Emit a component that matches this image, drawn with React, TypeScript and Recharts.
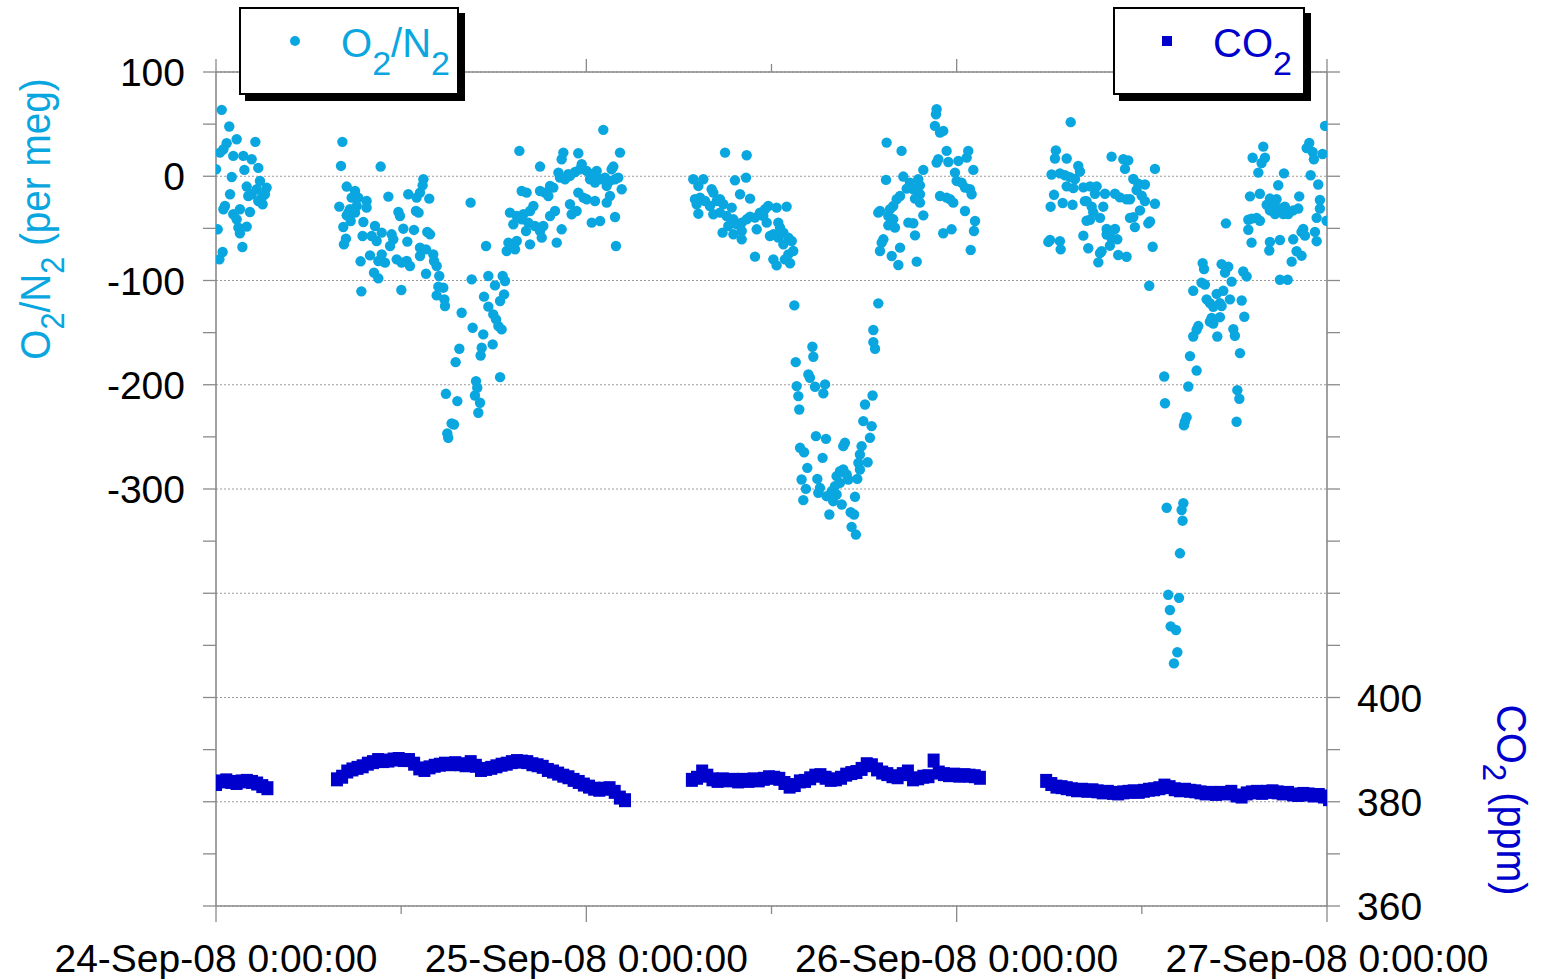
import { CartesianGrid, Scatter, ScatterChart, XAxis, YAxis } from "recharts";

const FONT = '"Liberation Sans", Arial, Helvetica, sans-serif';
const O2_COLOR = "#0AA6E0";
const CO2_COLOR = "#0000CC";
const AXIS_COLOR = "#8A8A8A";

// x axis: hours since 24-Sep-08 0:00
const hourTicks = [0, 12, 24, 36, 48, 60, 72];
const dayTicks = [0, 24, 48, 72];
const dayLabels = ["24-Sep-08 0:00:00", "25-Sep-08 0:00:00", "26-Sep-08 0:00:00", "27-Sep-08 0:00:00"];

const o2Ticks = [-700, -650, -600, -550, -500, -450, -400, -350, -300, -250, -200, -150, -100, -50, 0, 50, 100];
const o2Labels = [100, 0, -100, -200, -300];
const o2Grid = [100, 0, -100, -200, -300, -400, -500, -600, -700];
const co2Ticks = [360, 370, 380, 390, 400, 410, 420, 430, 440, 450, 460, 470, 480, 490, 500, 510, 520];
const co2Labels = [360, 380, 400];

// O2/N2 (per meg) samples: [hour, value]
const o2Night1 = [
  [0.37, 63.7], [0.86, 47.7], [1.34, 35.5], [2.55, 33], [0.69, 31.7], [0.48, 25.9], [0.26, 22.7], [1.12, 19.5],
  [1.77, 19.5], [2.31, 16.3], [0, 6.7], [1.84, 6.1], [2.74, 8], [1.02, -0.7], [2.85, -4.5], [1.99, -9.9],
  [3.28, -10.9], [2.64, -12.5], [2.31, -17.3], [3.17, -17.3], [0.91, -17.3], [2.09, -18.9], [2.96, -20.5],
  [2.74, -23.7], [3.02, -26.9], [0.58, -28.5], [0.48, -31.7], [1.55, -31.7], [1.12, -36.5], [2.2, -34.3],
  [1.34, -41.3], [0.11, -50.9], [1.99, -48.3], [1.45, -49.3], [1.55, -54.7], [0.43, -72.7], [0.22, -79.7],
  [1.71, -67.9],
];
const o2Day1 = [
  [8.19, 33], [8.1, 9.9], [10.67, 9.3], [8.47, -9.9], [9.01, -14.1], [8.79, -20.5], [9.22, -20.5], [9.76, -23.7],
  [7.99, -29.1], [8.68, -31.7], [9.12, -28.5], [8.58, -34.9], [9.01, -34.9], [9.76, -30.1], [8.47, -37.5],
  [8.73, -42.9], [8.25, -48.7], [9.55, -43.9], [8.42, -59.9], [8.29, -65.3], [9.37, -81.6], [9.98, -75.9],
  [9.5, -57.3], [10.09, -57.3], [10.3, -47.7], [10.41, -62.1], [10.74, -54.1], [11.17, -19.5], [11.38, -55.7],
  [11.49, -60.5], [11.28, -66.9], [10.74, -74.9], [10.52, -81.3], [10.95, -82.9], [11.82, -34.3], [11.92, -38.1],
  [12.14, -50.3], [12.4, -62.7], [11.71, -79.7], [12.03, -82.9], [12.36, -81.3], [12.57, -86.1], [12.83, -51.5],
  [12.46, -17.3], [13.0, -20.5], [13.44, -2.9], [13.39, -8.7], [13.22, -15.7], [13.82, -21.5], [12.96, -33.3],
  [13.13, -34.9], [13.69, -53.5], [13.87, -55.7], [13.22, -68.5], [13.61, -70.1], [14.08, -74.9], [14.13, -81.3],
  [14.3, -86.1], [13.22, -76.5], [10.24, -92.5], [10.52, -97.9], [9.42, -110.4], [12.01, -109.1], [13.61, -93.5],
  [14.47, -95.7], [14.41, -105.9], [14.3, -114.3], [14.73, -106.9], [14.8, -118.1], [14.84, -124.5],
];
const o2Dip1 = [
  [15.92, -130.9], [16.5, -25.3], [16.57, -98.9], [16.63, -145.3], [17.32, -151.7], [17.22, -164.5],
  [17.15, -171.9], [17.5, -66.9], [14.9, -208.7], [15.77, -165.5], [15.53, -178.3], [15.64, -215.7],
  [15.27, -237.1], [15.42, -238.1], [14.99, -246.7], [15.05, -250.9], [16.85, -196.5], [16.93, -202.9],
  [16.78, -210.3], [17.11, -217.3], [17.0, -226.9], [17.37, -115.5], [17.65, -95.7], [17.65, -125.1],
  [18.58, -95.7], [18.73, -100.5], [18.08, -104.7], [18.67, -113.3], [18.41, -119.7], [17.97, -132.5],
  [18.15, -137.3], [18.3, -143.7], [18.51, -146.9], [17.93, -161.3], [18.41, -192.7],
];
const o2Rise1 = [
  [19.66, 24.3], [21.0, 9.3], [25.1, 44.5], [26.18, 22.7], [22.51, 22.7], [22.4, 16.3], [23.48, 22.1], [25.75, 9.3],
  [25.64, 6.7], [22.19, 3.5], [22.83, 1.9], [22.29, -1.3], [22.62, -2.9], [22.94, 0.3], [23.27, 4.1], [23.7, 11.5],
  [23.59, 6.7], [24.02, 5.1], [24.35, 1.9], [24.67, 5.1], [24.24, -2.9], [24.56, -6.1], [24.89, -2.9], [25.21, -1.3],
  [25.32, -9.3], [25.53, -4.5], [25.86, -2.9], [26.07, -1.3], [26.29, -12.5], [21.65, -9.3], [21.86, -10.9],
  [21.32, -15.7], [21.0, -14.1], [19.81, -14.1], [20.13, -15.7], [21.54, -18.9], [23.48, -15.7], [23.81, -20.5],
  [24.02, -22.1], [24.56, -23.7], [25.32, -25.3], [25.53, -18.9], [22.94, -26.9], [20.57, -28.5], [21.97, -33.3],
  [20.35, -33.3], [19.92, -36.5], [19.49, -38.1], [19.05, -34.9], [19.27, -46.1], [19.81, -41.3], [20.24, -44.5],
  [20.67, -47.7], [21.65, -38.1], [21.21, -47.7], [21.0, -52.5], [21.11, -58.9], [22.4, -50.9], [22.08, -63.7],
  [23.05, -36.5], [23.37, -33.3], [20.09, -52.5], [20.35, -65.3], [19.49, -62.1], [18.95, -63.7], [18.84, -71.7],
  [19.38, -70.1], [24.35, -44.5], [24.89, -42.9], [25.86, -39.1], [25.92, -66.9],
];
const o2Day2 = [
  [32.99, 22.7], [34.39, 20.1], [30.93, -2.9], [31.58, -2.9], [31.26, -9.3], [33.63, -3.9], [34.35, -1.3],
  [32.12, -12.5], [32.23, -15.7], [31.04, -22.1], [31.37, -20.5], [31.69, -23.7], [31.15, -26.9], [32.01, -28.5],
  [32.45, -23.7], [32.66, -22.1], [32.88, -26.9], [31.26, -35.9], [33.96, -17.3], [34.61, -21.5], [32.23, -36.5],
  [32.66, -34.9], [33.09, -38.1], [33.42, -30.1], [33.53, -41.3], [33.2, -47.7], [33.74, -46.1], [34.07, -44.5],
  [34.39, -41.3], [34.61, -38.7], [34.93, -39.7], [35.25, -34.9], [35.58, -31.7], [35.79, -28.5], [35.47, -38.1],
  [35.69, -44.5], [35.04, -50.9], [34.07, -52.5], [33.53, -55.7], [32.83, -54.1], [34.07, -60.5], [34.93, -77.1],
  [36.33, -30.1], [36.98, -29.1], [36.44, -44.5], [36.55, -49.3], [36.12, -55.7], [36.44, -58.9], [36.77, -54.1],
  [37.09, -58.9], [37.31, -62.1], [36.77, -65.3], [37.41, -71.7], [37.09, -74.9], [36.87, -79.7], [37.2, -83.5],
  [36.12, -79.7], [36.33, -85.5], [35.9, -57.3],
];
const o2Dip2 = [
  [37.48, -123.9], [38.65, -163.5], [38.71, -173.1], [37.57, -178.3], [38.39, -190.1], [38.49, -193.3],
  [38.82, -201.9], [39.47, -199.7], [39.36, -208.3], [37.63, -201.3], [37.74, -210.9], [37.8, -223.7],
  [38.88, -249.3], [39.53, -251.9], [37.85, -260.5], [38.11, -264.7], [39.31, -270.1], [40.65, -258.9],
  [40.76, -255.7], [41.84, -258.9], [41.73, -266.9], [41.63, -274.9], [42.23, -274.3], [38.32, -279.7],
  [37.95, -290.9], [38.23, -299.9], [38.06, -310.7], [38.97, -290.3], [39.14, -298.9], [39.03, -303.7],
  [39.57, -306.9], [39.9, -302.1], [40.11, -297.3], [40.22, -287.7], [40.44, -282.9], [40.65, -281.3],
  [40.87, -286.1], [40.98, -290.9], [40.44, -294.1], [40.22, -305.3], [40.0, -311.7], [40.55, -314.9],
  [39.75, -324.5], [41.41, -307.5], [41.13, -322.3], [41.35, -324.5], [41.19, -336.3], [41.47, -343.7],
  [41.56, -290.3], [41.73, -281.3], [41.95, -234.9], [42.49, -239.7], [42.06, -218.9], [42.55, -210.3],
  [42.38, -250.9], [42.6, -159.1], [42.71, -165.5], [42.6, -147.5], [42.92, -121.9],
];
const o2Night2 = [
  [46.7, 64.3], [46.66, 59.5], [46.59, 48.3], [47.13, 43.5], [46.92, 41.9], [43.46, 32.3], [44.43, 24.3],
  [47.35, 24.3], [48.75, 24.3], [48.65, 17.9], [48.11, 14.7], [47.46, 13.7], [46.81, 16.3], [46.7, 13.1],
  [45.84, 6.1], [49.08, 6.1], [43.42, -3.5], [44.54, -0.3], [44.97, -6.1], [45.51, -2.9], [45.62, -8.7],
  [45.19, -12.5], [44.76, -11.9], [44.33, -18.9], [44.11, -22.1], [43.89, -28.5], [43.68, -31.7], [43.03, -33.3],
  [42.92, -34.9], [43.57, -38.1], [43.89, -41.3], [43.57, -47.1], [44.0, -49.3], [45.62, -17.3], [45.3, -21.5],
  [45.62, -25.3], [45.84, -37.5], [44.87, -44.5], [45.19, -45.1], [45.3, -56.7], [44.33, -68.5], [43.79, -76.5],
  [44.22, -85.1], [45.41, -81.9], [43.03, -71.7], [43.25, -60.5], [43.14, -63.7], [47.89, 3.5], [48.0, -4.5],
  [48.32, -6.1], [48.54, -10.9], [48.86, -12.5], [48.97, -17.3], [46.92, -18.9], [47.35, -20.5], [47.57, -22.1],
  [47.78, -25.3], [48.54, -33.3], [49.19, -42.9], [49.12, -52.5], [47.67, -50.9], [47.13, -54.7], [48.91, -70.7],
];
const o2Day3 = [
  [55.39, 51.9], [54.43, 24.8], [54.37, 17.0], [55.13, 17.0], [55.88, 9.9], [55.99, 4.6], [58.04, 18.8],
  [58.8, 16.3], [59.12, 15.2], [58.91, 7.05], [60.85, 7.05], [54.15, 1.7], [54.69, 2.8], [55.02, 1.0],
  [55.34, -0.8], [55.67, -2.6], [55.13, -9.7], [55.56, -11.4], [56.21, -10.7], [56.64, -9.7], [57.07, -9.7],
  [56.96, -16.8], [56.42, -23.9], [57.61, -16.8], [58.26, -16.8], [58.58, -20.3], [59.01, -22.1], [59.45, -2.6],
  [59.77, -7.2], [60.2, -7.9], [59.66, -13.2], [59.99, -18.6], [60.2, -23.9], [60.85, -26.4], [59.23, -22.1],
  [59.88, -32.8], [59.45, -39.2], [59.23, -39.9], [59.55, -48.8], [60.53, -43.4], [60.42, -45.2], [60.7, -67.6],
  [60.48, -105.0], [54.31, -17.8], [54.09, -29.2], [54.87, -25.7], [55.51, -27.4], [56.31, -23.9], [56.75, -29.2],
  [56.85, -34.6], [57.29, -39.9], [56.64, -41.7], [56.42, -42.7], [57.5, -29.2], [57.72, -50.6], [57.93, -53.4],
  [58.26, -50.6], [57.72, -55.9], [58.04, -59.5], [58.41, -60.5], [57.93, -66.6], [56.21, -57.0], [56.53, -69.1],
  [57.39, -71.9], [57.29, -73.7], [57.18, -82.6], [58.47, -75.5], [59.01, -77.2], [53.94, -63.0], [54.05, -61.2],
  [54.69, -62.3], [54.74, -70.1],
];
const o2Dip3 = [
  [65.45, -45.2], [63.94, -83.3], [64.03, -89.0], [65.17, -84.3], [65.6, -86.8], [65.39, -92.5], [66.57, -91.4],
  [66.79, -96.1], [63.87, -102.1], [64.09, -103.9], [65.82, -101.1], [63.33, -109.9], [65.28, -109.9],
  [64.85, -112.8], [64.2, -118.1], [64.41, -121.7], [65.06, -121.7], [65.71, -118.1], [66.47, -119.2],
  [64.63, -125.2], [65.17, -124.5], [64.52, -135.9], [65.06, -135.2], [64.63, -141.2], [64.41, -139.5],
  [63.66, -143.7], [63.55, -147.3], [63.33, -153.7], [64.89, -153.7], [65.93, -146.6], [66.03, -153.0],
  [66.64, -134.8], [66.36, -169.7], [63.12, -172.5], [63.55, -186.4], [61.45, -192.1], [61.5, -217.7],
  [63.01, -201.7], [62.9, -231.2], [62.79, -235.5], [62.73, -239.0], [66.19, -205.2], [66.32, -213.4],
  [66.14, -235.5], [61.61, -318.0], [62.69, -313.7], [62.58, -320.1], [62.64, -330.4], [62.47, -361.7],
  [61.71, -401.5], [62.41, -404.4], [61.82, -416.1], [61.87, -431.8], [62.21, -435.3], [62.3, -456.6],
  [62.08, -467.3],
];
const o2Night3 = [
  [67.87, 28.4], [67.18, 17.7], [67.98, 17.7], [67.76, 12.7], [67.55, 3.5], [69.21, 2.8], [71.87, 48.3],
  [70.85, 31.9], [70.68, 27.0], [71.07, 23.4], [71.15, 16.3], [71.71, 21.3], [70.94, 1.0], [71.43, -7.9],
  [67.65, -16.8], [67.01, -19.3], [70.2, -19.3], [66.9, -41.7], [67.11, -40.6], [67.44, -39.9], [67.65, -42.7],
  [68.09, -27.4], [68.3, -21.4], [68.73, -22.1], [68.52, -29.2], [68.3, -32.8], [68.63, -36.3], [68.95, -31.0],
  [69.27, -29.2], [69.17, -36.3], [69.49, -36.3], [69.81, -32.8], [70.14, -31.0], [71.54, -22.8], [71.54, -31.0],
  [71.33, -39.9], [71.97, -42.7], [70.46, -50.6], [70.35, -53.4], [70.57, -57.0], [68.84, -8.6], [66.9, -51.3],
  [67.11, -63.7], [68.3, -63.0], [68.26, -71.2], [68.95, -61.2], [69.81, -60.5], [71.22, -53.4], [71.33, -62.3],
  [70.03, -71.9], [70.35, -76.2], [69.71, -81.9], [68.95, -99.3], [69.45, -99.3],
];

// CO2 (ppm), one reading every 20 minutes from the segment start hour
const co2StepHours = 1 / 3;
const co2Seg1Start = 0;
const co2Seg1 = [383.4, 383.9, 384.1, 383.8, 383.6, 383.9, 384.0, 383.8, 383.5, 383.0, 382.6];
const co2Seg2Start = 7.84;
const co2Seg2 = [
  384.3, 384.8, 385.8, 386.2, 386.5, 386.8, 387.3, 387.6, 388.0, 387.8, 387.9, 388.1, 388.2, 388.0, 388.0, 387.3,
  386.4, 386.1, 386.6, 386.9, 387.1, 387.3, 387.2, 387.4, 387.2, 387.0, 387.6, 386.9, 386.1, 386.3, 386.5, 386.8,
  387.1, 387.3, 387.6, 387.8, 387.7, 387.6, 387.2, 387.0, 386.7, 386.1, 385.8, 385.4, 385.0, 384.7, 384.2, 383.8,
  383.3, 382.9, 382.5, 382.3, 382.5, 382.6, 381.9, 380.8, 380.3,
];
const co2Seg3Start = 30.84;
const co2Seg3 = [
  384.2, 384.6, 385.8, 385.0, 384.3, 384.0, 384.3, 384.1, 384.2, 383.9, 384.2, 384.0, 384.3, 384.1, 384.4, 384.7,
  384.6, 384.4, 383.6, 382.9, 383.2, 383.9, 384.0, 384.5, 385.0, 385.1, 384.6, 384.2, 384.3, 384.6, 385.2, 385.5,
  385.7, 386.3, 387.2, 387.0, 386.2, 385.6, 385.3, 384.9, 384.7, 385.3, 385.8, 384.3, 384.5, 384.8, 384.9, 387.9,
  385.6, 385.3, 385.1, 385.2, 385.0, 385.1, 385.0, 384.9, 384.6,
];
const co2Seg4Start = 53.8;
const co2Seg4 = [
  384.0, 383.4, 382.9, 382.8, 382.6, 382.4, 382.2, 382.3, 382.1, 382.2, 382.0, 381.8, 381.9, 381.7, 381.6, 381.8,
  381.9, 382.0, 381.9, 382.1, 382.3, 382.4, 382.6, 383.1, 382.8, 382.4, 382.2, 382.3, 382.1, 382.0, 381.8, 381.6,
  381.7, 381.5, 381.7, 381.6, 381.9, 381.2, 381.0, 381.6, 381.8, 381.9, 381.7, 381.9, 382.0, 381.8, 381.6, 381.7,
  381.4, 381.3, 381.5, 381.4, 381.2, 381.3, 381.0, 380.5,
];

const o2Data = [o2Night1, o2Day1, o2Dip1, o2Rise1, o2Day2, o2Dip2, o2Night2, o2Day3, o2Dip3, o2Night3]
  .flat()
  .map(([t, v]) => ({ t, v }));

const co2Data = [
  [co2Seg1Start, co2Seg1],
  [co2Seg2Start, co2Seg2],
  [co2Seg3Start, co2Seg3],
  [co2Seg4Start, co2Seg4],
].flatMap(([start, values]: any) => values.map((v: number, i: number) => ({ t: start + i * co2StepHours, v })));

const renderDot = (p: any) => <circle cx={p.cx} cy={p.cy} r={5.2} fill={O2_COLOR} />;
const renderSquare = (p: any) => <rect x={p.cx - 6} y={p.cy - 7} width={12} height={14} fill={CO2_COLOR} />;

function BottomTick(props: any) {
  const { x, y, payload } = props;
  const i = dayTicks.indexOf(payload.value);
  return (
    <g>
      <line x1={x} x2={x} y1={y} y2={y + (i >= 0 ? 16 : 8)} stroke={AXIS_COLOR} strokeWidth={1.3} />
      {i >= 0 && (
        <text x={x} y={y + 66} textAnchor="middle" fontFamily={FONT} fontSize={39} fill="#000">
          {dayLabels[i]}
        </text>
      )}
    </g>
  );
}

function TopTick(props: any) {
  const { x, y, payload } = props;
  const major = dayTicks.includes(payload.value);
  return <line x1={x} x2={x} y1={y} y2={y - (major ? 13 : 8)} stroke={AXIS_COLOR} strokeWidth={1.3} />;
}

function ValueTick(props: any) {
  const { x, y, payload, labels, anchor } = props;
  if (!labels.includes(payload.value)) return <g />;
  return (
    <text x={x} y={y} dy="0.36em" textAnchor={anchor} fontFamily={FONT} fontSize={39} fill="#000">
      {payload.value}
    </text>
  );
}

const sub = (size: number, shift: number) => ({ fontSize: size, position: "relative" as const, top: shift });

export default function App() {
  return (
    <div style={{ position: "absolute", left: 0, top: 0, width: 1543, height: 979, background: "#fff", fontFamily: FONT }}>
      <ScatterChart width={1543} height={979} margin={{ top: 0, right: 0, bottom: 0, left: 0 }}>
        <CartesianGrid
          xAxisId="b"
          yAxisId="o2"
          vertical={false}
          horizontalValues={o2Grid}
          stroke="#9a9a9a"
          strokeDasharray="2 2"
        />
        <XAxis
          xAxisId="b"
          dataKey="t"
          type="number"
          domain={[0, 72]}
          ticks={hourTicks}
          interval={0}
          height={73}
          tickSize={0}
          tickMargin={0}
          tickLine={false}
          tick={(p: any) => <BottomTick {...p} />}
          axisLine={{ stroke: AXIS_COLOR, strokeWidth: 1.6 }}
          allowDataOverflow
        />
        <XAxis
          xAxisId="top"
          orientation="top"
          dataKey="t"
          type="number"
          domain={[0, 72]}
          ticks={hourTicks}
          interval={0}
          height={72}
          tickSize={0}
          tickMargin={0}
          tickLine={false}
          tick={(p: any) => <TopTick {...p} />}
          axisLine={{ stroke: AXIS_COLOR, strokeWidth: 1.3 }}
          allowDataOverflow
        />
        <YAxis
          yAxisId="o2"
          dataKey="v"
          type="number"
          domain={[-700, 100]}
          ticks={o2Ticks}
          interval={0}
          width={216}
          tickSize={13}
          tickMargin={18}
          tickLine={{ stroke: AXIS_COLOR, strokeWidth: 1.3 }}
          tick={(p: any) => <ValueTick {...p} labels={o2Labels} anchor="end" />}
          axisLine={{ stroke: AXIS_COLOR, strokeWidth: 1.6 }}
          allowDataOverflow
        />
        <YAxis
          yAxisId="co2"
          orientation="right"
          dataKey="v"
          type="number"
          domain={[360, 520]}
          ticks={co2Ticks}
          interval={0}
          width={216}
          tickSize={13}
          tickMargin={17}
          tickLine={{ stroke: AXIS_COLOR, strokeWidth: 1.3 }}
          tick={(p: any) => <ValueTick {...p} labels={co2Labels} anchor="start" />}
          axisLine={{ stroke: AXIS_COLOR, strokeWidth: 1.6 }}
          allowDataOverflow
        />
        <Scatter xAxisId="b" yAxisId="co2" data={co2Data} shape={renderSquare} isAnimationActive={false} />
        <Scatter xAxisId="b" yAxisId="o2" data={o2Data} shape={renderDot} isAnimationActive={false} />
      </ScatterChart>

      {/* axis titles */}
      <div
        style={{
          position: "absolute",
          left: 35,
          top: 219,
          transform: "translate(-50%, -50%) rotate(-90deg) scaleX(0.9)",
          whiteSpace: "nowrap",
          color: O2_COLOR,
          fontSize: 43,
          lineHeight: 1,
        }}>
        O<span style={sub(34, 14)}>2</span>/N<span style={sub(34, 14)}>2</span> (per meg)
      </div>
      <div
        style={{
          position: "absolute",
          left: 1511,
          top: 800,
          transform: "translate(-50%, -50%) rotate(90deg) scaleX(0.92)",
          whiteSpace: "nowrap",
          color: CO2_COLOR,
          fontSize: 43,
          lineHeight: 1,
        }}>
        CO<span style={sub(34, 14)}>2</span> (ppm)
      </div>

      {/* legends */}
      <div
        style={{
          position: "absolute",
          left: 239,
          top: 7,
          width: 220,
          height: 88,
          boxSizing: "border-box",
          border: "2px solid #000",
          background: "#fff",
          boxShadow: "6px 6px 0 #000",
        }}
      />
      <div style={{ position: "absolute", left: 290, top: 36, width: 10, height: 10, borderRadius: "50%", background: O2_COLOR }} />
      <div style={{ position: "absolute", left: 341, top: 23, fontSize: 40, lineHeight: 1, color: O2_COLOR, whiteSpace: "nowrap" }}>
        O<span style={sub(34, 18)}>2</span>/N<span style={sub(34, 18)}>2</span>
      </div>

      <div
        style={{
          position: "absolute",
          left: 1113,
          top: 7,
          width: 192,
          height: 88,
          boxSizing: "border-box",
          border: "2px solid #000",
          background: "#fff",
          boxShadow: "6px 6px 0 #000",
        }}
      />
      <div style={{ position: "absolute", left: 1162, top: 36, width: 10, height: 10, background: CO2_COLOR }} />
      <div style={{ position: "absolute", left: 1213, top: 23, fontSize: 40, lineHeight: 1, color: CO2_COLOR, whiteSpace: "nowrap" }}>
        CO<span style={sub(34, 18)}>2</span>
      </div>
    </div>
  );
}
